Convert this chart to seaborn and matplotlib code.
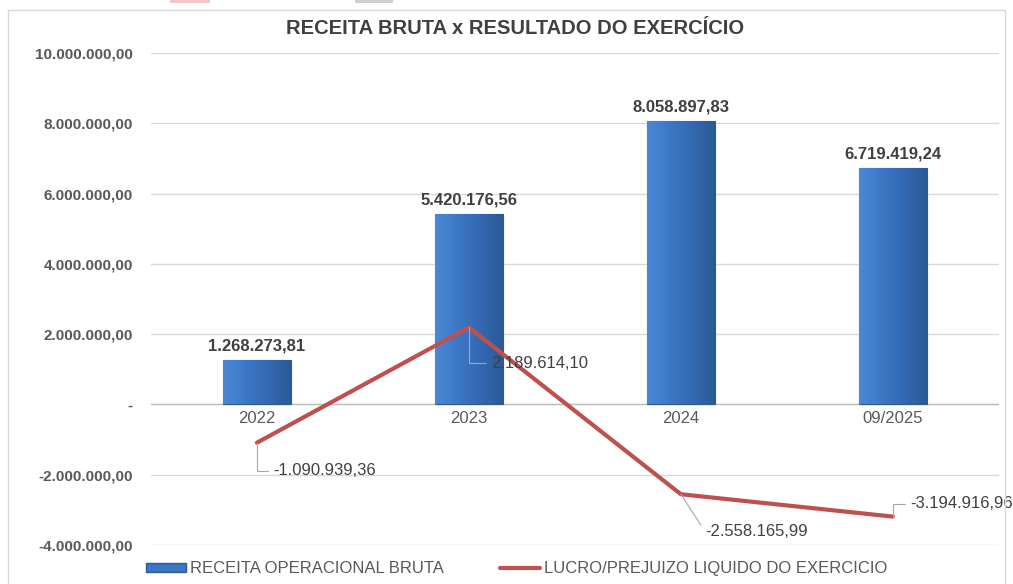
import numpy as np
import pandas as pd
import matplotlib
matplotlib.use("Agg")
import matplotlib.pyplot as plt
import seaborn as sns
from matplotlib.patches import Rectangle
from matplotlib.lines import Line2D
from matplotlib.colors import LinearSegmentedColormap

# dados do gráfico
periodos = ["2022", "2023", "2024", "09/2025"]
receita_bruta = [1268273.81, 5420176.56, 8058897.83, 6719419.24]
lucro_liquido = [-1090939.36, 2189614.10, -2558165.99, -3194916.96]
nome_receita = "RECEITA OPERACIONAL BRUTA"
nome_lucro = "LUCRO/PREJUIZO LIQUIDO DO EXERCICIO"
titulo = "RECEITA BRUTA x RESULTADO DO EXERCÍCIO"

# deslocamento (pixels) dos rótulos da linha
desloc_rotulos = [(16, -28), (22, -36), (24, -37), (17, 13)]


def fmt_br(v):
    s = f"{abs(v):,.2f}".replace(",", "X").replace(".", ",").replace("X", ".")
    return ("-" if v < 0 else "") + s


sns.set_theme(style="white")
plt.rcParams["font.family"] = ["Liberation Sans", "DejaVu Sans"]

cor_texto = "#404040"
azul = "#3A76C4"
vermelho = "#C0504D"

df = pd.DataFrame({"periodo": periodos, "receita": receita_bruta, "lucro": lucro_liquido})

fig = plt.figure(figsize=(10.13, 5.84), dpi=100)
ax = fig.add_axes([0.149, 0.067, 0.837, 0.842])

sns.barplot(data=df, x="periodo", y="receita", color=azul, width=0.32,
            edgecolor="#2C5A96", linewidth=0.8, saturation=1, ax=ax, zorder=2)

# gradiente nas barras para imitar o efeito 3D
cmap = LinearSegmentedColormap.from_list("bar", ["#4A88D6", "#3C78C5", "#3469B2", "#2A5995"])
grad = np.linspace(0, 1, 64).reshape(1, -1)
for bar in ax.patches:
    x0, y0 = bar.get_x(), bar.get_y()
    w, h = bar.get_width(), bar.get_height()
    im = ax.imshow(grad, cmap=cmap, aspect="auto", extent=[x0, x0 + w, y0, y0 + h],
                   zorder=2.1)
    im.set_clip_path(bar)

sns.lineplot(data=df, x="periodo", y="lucro", color=vermelho, linewidth=3,
             sort=False, ax=ax, zorder=4)

ax.set_ylim(-4000000, 10000000)
ax.set_xlim(-0.5, 3.5)
ax.set_yticks(np.arange(-4000000, 10000001, 2000000))
ax.set_yticklabels(["-" if t == 0 else fmt_br(t) for t in ax.get_yticks()],
                   fontsize=11, fontweight="bold", color="#595959")
ax.tick_params(axis="y", length=0, pad=13)
ax.tick_params(axis="x", length=0, pad=0)
ax.set_xlabel("")
ax.set_ylabel("")
ax.grid(axis="y", color="#D9D9D9", linewidth=1, zorder=0)
ax.set_axisbelow(True)
for s in ax.spines.values():
    s.set_visible(False)
ax.axhline(0, color="#BFBFBF", linewidth=1, zorder=1)

# rótulos do eixo x logo abaixo da linha do zero
ax.set_xticklabels([])
for i, p in enumerate(periodos):
    ax.annotate(p, xy=(i, 0), xytext=(0, -14), textcoords="offset pixels",
                ha="center", va="center", fontsize=12, color="#595959")

# rótulos das barras
for i, v in enumerate(receita_bruta):
    ax.annotate(fmt_br(v), xy=(i, v), xytext=(0, 14), textcoords="offset pixels",
                ha="center", va="center", fontsize=12, fontweight="bold",
                color=cor_texto)

# rótulos da linha com linhas de chamada
for i, (v, (dx, dy)) in enumerate(zip(lucro_liquido, desloc_rotulos)):
    ax.annotate(fmt_br(v), xy=(i, v), xytext=(dx, dy), textcoords="offset pixels",
                ha="left", va="center", fontsize=12, color=cor_texto, zorder=5,
                annotation_clip=False,
                arrowprops=dict(arrowstyle="-", color="#A6A6A6", lw=0.8,
                                shrinkA=1, shrinkB=0, relpos=(0, 0.5),
                                connectionstyle="angle,angleA=0,angleB=90,rad=0"
                                if i != 2 else "arc3"))

fig.text(515 / 1013, 1 - 28 / 584, titulo, ha="center", va="center",
         fontsize=14.5, fontweight="bold", color=cor_texto)

handles = [Rectangle((0, 0), 1, 1, facecolor=azul, edgecolor="#2C5A96"),
           Line2D([0], [0], color=vermelho, linewidth=3)]
fig.legend(handles, [nome_receita, nome_lucro], loc="center", ncol=2,
           bbox_to_anchor=(0.51, 0.026), frameon=False, fontsize=12,
           handlelength=2.4, handleheight=0.45, handletextpad=0.2,
           columnspacing=3.4, labelcolor="#595959")

# moldura do gráfico
fig.patches.append(Rectangle((8 / 1013, -0.05), 997 / 1013, 1 - 10 / 584 + 0.05,
                             transform=fig.transFigure, fill=False,
                             edgecolor="#D9D9D9", linewidth=1))
# restos de legenda cortada no topo
fig.patches.append(Rectangle((170 / 1013, 1 - 3 / 584), 40 / 1013, 3 / 584,
                             transform=fig.transFigure, facecolor="#F4C7C6",
                             edgecolor="none"))
fig.patches.append(Rectangle((355 / 1013, 1 - 3 / 584), 38 / 1013, 3 / 584,
                             transform=fig.transFigure, facecolor="#CFCFCF",
                             edgecolor="none"))

fig.savefig("out.png", dpi=100)
